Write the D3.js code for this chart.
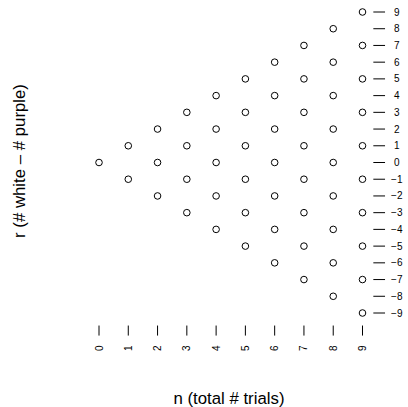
<!DOCTYPE html>
<html lang="en">
<head>
<meta charset="UTF-8">
<title>chart</title>
<script src="https://cdn.jsdelivr.net/npm/d3@7"></script>
<style>
  body { margin: 0; background: #fff; }
  text { font-family: "Liberation Sans", Arial, sans-serif; fill: #000; }
</style>
</head>
<body>
<svg width="408" height="407"></svg>
<script>
// trials n and the reachable r values for each n
var nValues = [0, 1, 2, 3, 4, 5, 6, 7, 8, 9];
var rByN = [
    [0],
    [-1, 1],
    [-2, 0, 2],
    [-3, -1, 1, 3],
    [-4, -2, 0, 2, 4],
    [-5, -3, -1, 1, 3, 5],
    [-6, -4, -2, 0, 2, 4, 6],
    [-7, -5, -3, -1, 1, 3, 5, 7],
    [-8, -6, -4, -2, 0, 2, 4, 6, 8],
    [-9, -7, -5, -3, -1, 1, 3, 5, 7, 9]
];
var rLabels = [9, 8, 7, 6, 5, 4, 3, 2, 1, 0, -1, -2, -3, -4, -5, -6, -7, -8, -9];

var svg = d3.select('svg');
var x = d3.scaleLinear().domain([0, 9]).range([99, 362.5]);
var y = d3.scaleLinear().domain([-9, 9]).range([313, 12]);

// flatten to points
var pts = [];
nValues.forEach(function (n, i) {
    rByN[i].forEach(function (r) { pts.push({ n: n, r: r }); });
});

svg.append('g').selectAll('circle')
    .data(pts)
    .enter()
    .append('circle')
    .attr('cx', function (d) { return x(d.n); })
    .attr('cy', function (d) { return y(d.r); })
    .attr('r', 3.3)
    .attr('fill', 'none')
    .attr('stroke', '#000')
    .attr('stroke-width', 1);

// right side: dashes and r labels
var right = svg.append('g');
right.selectAll('line')
    .data(rLabels)
    .enter()
    .append('line')
    .attr('x1', x(9.37)).attr('x2', x(9.77))
    .attr('y1', function (d) { return y(d); })
    .attr('y2', function (d) { return y(d); })
    .attr('stroke', '#000');
right.selectAll('text')
    .data(rLabels)
    .enter()
    .append('text')
    .attr('x', x(10.17))
    .attr('y', function (d) { return y(d); })
    .attr('dy', '0.35em')
    .attr('text-anchor', 'middle')
    .attr('font-size', 10)
    .text(function (d) { return d < 0 ? '\u2212' + Math.abs(d) : d; });

// bottom: vertical ticks and rotated n labels
var bottom = svg.append('g');
bottom.selectAll('line')
    .data(nValues)
    .enter()
    .append('line')
    .attr('x1', function (d) { return x(d); })
    .attr('x2', function (d) { return x(d); })
    .attr('y1', y(-9.75)).attr('y2', y(-10.35))
    .attr('stroke', '#000');
bottom.selectAll('text')
    .data(nValues)
    .enter()
    .append('text')
    .attr('transform', function (d) { return 'translate(' + x(d) + ',' + y(-11.1) + ') rotate(-90)'; })
    .attr('dy', '0.35em')
    .attr('text-anchor', 'middle')
    .attr('font-size', 10)
    .text(function (d) { return d; });

// axis titles
svg.append('text')
    .attr('x', 229).attr('y', 404)
    .attr('text-anchor', 'middle')
    .attr('font-size', 16.8)
    .text('n (total # trials)');
svg.append('text')
    .attr('transform', 'translate(25,161) rotate(-90)')
    .attr('text-anchor', 'middle')
    .attr('font-size', 16.8)
    .text('r (# white \u2013 # purple)');
</script>
</body>
</html>
